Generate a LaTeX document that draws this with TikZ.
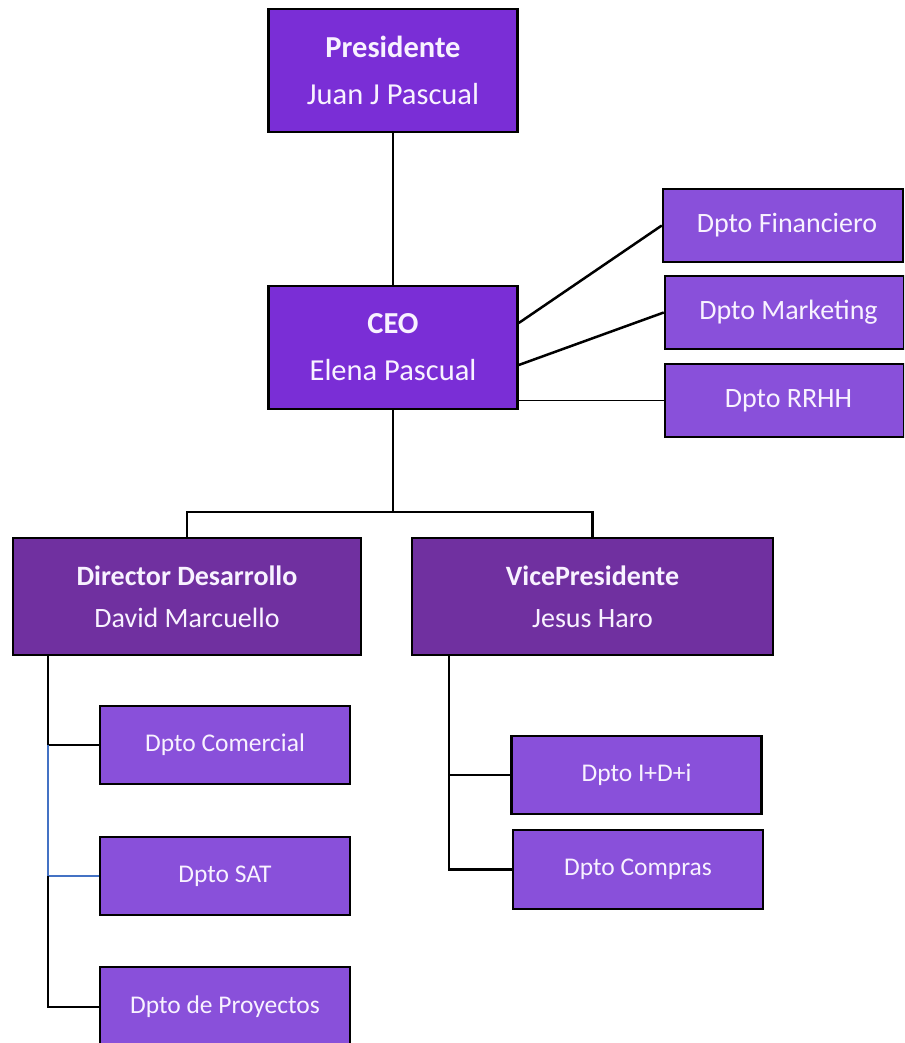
\documentclass[tikz,border=0pt]{standalone}
\usepackage{fontspec}
\setmainfont{Carlito}
\usetikzlibrary{positioning}
\definecolor{moradoalto}{RGB}{122,46,214}
\definecolor{moradomedio}{RGB}{112,48,160}
\definecolor{moradodpto}{RGB}{137,80,218}
\definecolor{azullinea}{RGB}{68,114,196}
\definecolor{textoclaro}{RGB}{248,242,255}

\begin{document}
\begin{tikzpicture}[x=1pt,y=-1pt,
  cargo/.style={draw=black, line width=2.5pt, fill=moradoalto, text=textoclaro,
    align=center, inner sep=0pt, minimum width=249pt, minimum height=123pt,
    font=\fontsize{30.5}{47}\selectfont},
  director/.style={cargo, fill=moradomedio, minimum height=117pt,
    font=\fontsize{28}{42}\selectfont},
  dpto/.style={draw=black, line width=2.5pt, fill=moradodpto, text=textoclaro,
    inner sep=0pt, minimum width=250pt, minimum height=78pt,
    font=\fontsize{25.5}{30}\selectfont},
  dptoceo/.style={dpto, minimum width=239pt, minimum height=73pt,
    font=\fontsize{28}{32}\selectfont},
  linea/.style={draw=black, line width=2.5pt},
  fina/.style={draw=black, line width=1.2pt},
  azul/.style={draw=azullinea, line width=1.8pt}]
\clip (0,0) rectangle (904,1043);
% cabeza
\node[cargo] (pres) at (393,70.5) {\textbf{Presidente}\\Juan J Pascual};
\node[cargo] (ceo) at (393,347.5) {\textbf{CEO}\\Elena Pascual};
% departamentos del CEO
\node[dptoceo, minimum width=240pt] (fin) at (783,225.5) {\hspace*{8pt}Dpto Financiero};
\node[dptoceo] (mkt) at (784.5,312.5) {\hspace*{8pt}Dpto Marketing};
\node[dptoceo] (rrhh) at (784.5,400.5) {\hspace*{8pt}Dpto RRHH};
% segundo nivel
\node[director, minimum width=348pt] (dir) at (187,596.5) {\textbf{Director Desarrollo}\\David Marcuello};
\node[director, minimum width=361pt] (vp) at (592.5,596.5) {\textbf{VicePresidente}\\Jesus Haro};
% departamentos de abajo
\node[dpto] (com) at (225,745) {Dpto Comercial};
\node[dpto] (sat) at (225,876) {Dpto SAT};
\node[dpto, minimum height=80pt] (proy) at (225,1007) {Dpto de Proyectos};
\node[dpto] (idi) at (636.5,775) {Dpto I+D+i};
\node[dpto, minimum height=79pt] (comp) at (638,869.5) {Dpto Compras};
% lineas
\draw[linea] (pres) -- (ceo);
\draw[linea] ([yshift=24.5pt]ceo.east) -- (fin.west);
\draw[linea] ([yshift=-17.5pt]ceo.east) -- (mkt.west);
\draw[fina] (ceo.east |- rrhh.west) -- (rrhh.west);
\coordinate (barra) at (393,512);
\draw[linea] (ceo.south) -- (barra);
\draw[linea] (dir.north) |- (barra) -| (vp.north);
\coordinate (dtronco) at (48,655);
\draw[linea] (dtronco) |- (com.west);
\draw[azul] (dtronco |- com.west) |- (sat.west);
\draw[linea] (dtronco |- sat.west) |- (proy.west);
\coordinate (vtronco) at (449,655);
\draw[linea] (vtronco) |- (idi.west);
\draw[linea] (vtronco) |- (comp.west);
\end{tikzpicture}
\end{document}
